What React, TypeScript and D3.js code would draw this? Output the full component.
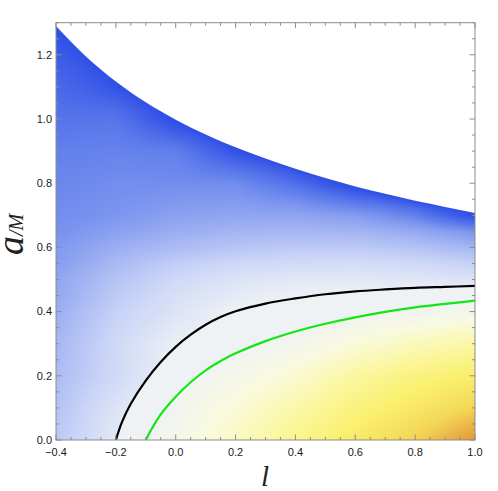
import React, { useMemo } from "react";
import * as d3 from "d3";

// ---------- data ----------
const L_TICKS = [-0.4, -0.2, 0, 0.2, 0.4, 0.6, 0.8, 1.0];
const A_TICKS = [0, 0.2, 0.4, 0.6, 0.8, 1.0, 1.2];

// upper edge of the coloured region
const upperL = [-0.4, -0.3, -0.2, -0.1, 0, 0.1, 0.2, 0.3, 0.4, 0.5, 0.6, 0.7, 0.8, 0.9, 1.0];
const upperA = [1.29, 1.195, 1.117, 1.052, 0.998, 0.952, 0.912, 0.877, 0.845, 0.816, 0.79, 0.767, 0.745, 0.726, 0.707];

// black curve
const blackL = [-0.2, -0.18, -0.15, -0.1, -0.05, 0, 0.05, 0.1, 0.15, 0.2, 0.3, 0.4, 0.5, 0.6, 0.7, 0.8, 0.9, 1.0];
const blackA = [0, 0.055, 0.113, 0.185, 0.243, 0.29, 0.328, 0.359, 0.383, 0.401, 0.425, 0.441, 0.454, 0.463, 0.469, 0.474, 0.477, 0.48];

// green curve
const greenL = [-0.1, -0.08, -0.05, 0, 0.05, 0.1, 0.15, 0.2, 0.3, 0.4, 0.5, 0.6, 0.7, 0.8, 0.9, 1.0];
const greenA = [0, 0.035, 0.08, 0.135, 0.18, 0.217, 0.246, 0.27, 0.308, 0.338, 0.362, 0.382, 0.399, 0.413, 0.424, 0.434];

// colour field samples (-1 deep blue, 0 pale, +1 orange); rows = fieldA, cols = fieldL
const fieldL = [-0.4, -0.2, 0, 0.2, 0.4, 0.6, 0.8, 1.0];
const fieldA = [0, 0.1, 0.2, 0.3, 0.4, 0.45, 0.5, 0.55, 0.6, 0.65, 0.7, 0.8, 0.9, 1.0, 1.1, 1.2, 1.3];
const row000 = [-0.27, -0.06, 0.08, 0.25, 0.43, 0.6, 0.77, 1.0];
const row010 = [-0.3, -0.1, 0.03, 0.18, 0.33, 0.49, 0.62, 0.76];
const row020 = [-0.34, -0.17, 0, 0.08, 0.2, 0.37, 0.49, 0.57];
const row030 = [-0.37, -0.17, -0.02, 0, 0.05, 0.17, 0.27, 0.35];
const row040 = [-0.42, -0.22, -0.1, 0, 0, 0, 0.04, 0.07];
const row045 = [-0.45, -0.26, -0.13, -0.05, -0.01, 0, 0, 0];
const row050 = [-0.47, -0.3, -0.17, -0.1, -0.07, -0.07, -0.08, -0.1];
const row055 = [-0.52, -0.35, -0.24, -0.18, -0.16, -0.15, -0.17, -0.22];
const row060 = [-0.55, -0.42, -0.34, -0.29, -0.26, -0.26, -0.3, -0.37];
const row065 = [-0.6, -0.5, -0.42, -0.38, -0.37, -0.38, -0.44, -0.55];
const row070 = [-0.62, -0.57, -0.5, -0.47, -0.47, -0.52, -0.65, -0.95];
const row080 = [-0.66, -0.62, -0.62, -0.62, -0.78, -1, -1, -1];
const row090 = [-0.7, -0.68, -0.7, -0.95, -1, -1, -1, -1];
const row100 = [-0.77, -0.76, -1, -1, -1, -1, -1, -1];
const row110 = [-0.84, -0.95, -1, -1, -1, -1, -1, -1];
const row120 = [-0.92, -1, -1, -1, -1, -1, -1, -1];
const row130 = [-1, -1, -1, -1, -1, -1, -1, -1];
const fieldRows = [row000, row010, row020, row030, row040, row045, row050, row055, row060, row065, row070, row080, row090, row100, row110, row120, row130];

// colour scale stops
const colorStops = [-1, -0.7, -0.4, -0.2, 0, 0.15, 0.35, 0.55, 0.75, 1];
const colorValues = ["#2f4fe6", "#6280ec", "#9fb1f2", "#cad5f7", "#eff2f5", "#f9fae0", "#fbf7a4", "#faf06e", "#f3d655", "#e3943a"];

// ---------- layout ----------
const WIDTH = 498;
const HEIGHT = 491;
const X0 = 56, X1 = 475, Y0 = 22.7, Y1 = 440;

const x = d3.scaleLinear().domain([-0.4, 1.0]).range([X0, X1]);
const y = d3.scaleLinear().domain([0, 1.3]).range([Y1, Y0]);

function bilinear(l: number, a: number): number {
  const nL = fieldL.length, nA = fieldA.length;
  const i = Math.min(Math.max(d3.bisectRight(fieldL, l) - 1, 0), nL - 2);
  const j = Math.min(Math.max(d3.bisectRight(fieldA, a) - 1, 0), nA - 2);
  const t = Math.min(Math.max((l - fieldL[i]) / (fieldL[i + 1] - fieldL[i]), 0), 1);
  const u = Math.min(Math.max((a - fieldA[j]) / (fieldA[j + 1] - fieldA[j]), 0), 1);
  const v00 = fieldRows[j][i], v10 = fieldRows[j][i + 1];
  const v01 = fieldRows[j + 1][i], v11 = fieldRows[j + 1][i + 1];
  return (v00 * (1 - t) + v10 * t) * (1 - u) + (v01 * (1 - t) + v11 * t) * u;
}

function useFieldImage() {
  return useMemo(() => {
    const W = Math.round(X1 - X0);
    const H = Math.round(Y1 - Y0);
    const canvas = document.createElement("canvas");
    canvas.width = W;
    canvas.height = H;
    const ctx = canvas.getContext("2d");
    if (!ctx) return "";
    const img = ctx.createImageData(W, H);
    const colorScale = d3.scaleLinear<string>().domain(colorStops).range(colorValues).interpolate(d3.interpolateRgb).clamp(true);
    const LUT_N = 1024;
    const lut: d3.RGBColor[] = [];
    for (let k = 0; k <= LUT_N; k++) lut.push(d3.rgb(colorScale(-1 + (2 * k) / LUT_N)));
    const upper = d3.scaleLinear().domain(upperL).range(upperA).clamp(true);
    const black = d3.scaleLinear().domain(blackL).range(blackA).clamp(true);
    const green = d3.scaleLinear().domain(greenL).range(greenA).clamp(true);
    for (let px = 0; px < W; px++) {
      const sx = X0 + px + 0.5;
      const l = x.invert(sx);
      const yb = y(upper(l));
      const slope = (y(upper(x.invert(sx + 1))) - y(upper(x.invert(sx - 1)))) / 2;
      const norm = Math.sqrt(1 + slope * slope);
      const bl = black(l), gr = green(l);
      for (let py = 0; py < H; py++) {
        const sy = Y0 + py + 0.5;
        const a = y.invert(sy);
        let v = bilinear(l, a);
        const aboveBlack = l < blackL[0] ? true : a > bl;
        const belowGreen = l < greenL[0] ? false : a < gr;
        if (aboveBlack) v = Math.min(v, 0);
        else if (belowGreen) v = Math.max(v, 0);
        else v = 0;
        const d = (sy - yb) / norm;
        if (d < 0) v = -1;
        else {
          const e = Math.exp(-d / 7);
          v = v * (1 - e) - e;
        }
        const k = Math.round(((v + 1) / 2) * LUT_N);
        const c = lut[Math.min(Math.max(k, 0), LUT_N)];
        const idx = (py * W + px) * 4;
        img.data[idx] = c.r;
        img.data[idx + 1] = c.g;
        img.data[idx + 2] = c.b;
        img.data[idx + 3] = 255;
      }
    }
    ctx.putImageData(img, 0, 0);
    return canvas.toDataURL("image/png");
  }, []);
}

export default function App() {
  const href = useFieldImage();
  const fmt = d3.format(".1f");

  const upperPts = upperL.map((l, i) => [l, upperA[i]] as [number, number]);
  const clipArea = d3
    .area<[number, number]>()
    .x((d) => x(d[0]))
    .y0(Y1)
    .y1((d) => y(d[1]))
    .curve(d3.curveMonotoneX)(upperPts) as string;

  const line = d3
    .line<[number, number]>()
    .x((d) => x(d[0]))
    .y((d) => y(d[1]))
    .curve(d3.curveCatmullRom.alpha(0.5));
  const blackPath = line(blackL.map((l, i) => [l, blackA[i]] as [number, number])) as string;
  const greenPath = line(greenL.map((l, i) => [l, greenA[i]] as [number, number])) as string;

  const minorX = d3.range(0, 29).map((i) => ({ v: -0.4 + i * 0.05, major: i % 4 === 0 }));
  const minorY = d3.range(0, 27).map((i) => ({ v: i * 0.05, major: i % 4 === 0 }));
  const MAJ = 5.5, MIN = 3;
  const axisColor = "#8c8c8c";

  return (
    <svg
      width={WIDTH}
      height={HEIGHT}
      style={{ position: "absolute", left: 0, top: 0, background: "#fff" }}
      fontFamily="'Liberation Sans', Arial, sans-serif"
    >
      <defs>
        <clipPath id="fieldClip">
          <path d={clipArea} />
        </clipPath>
        <clipPath id="plotClip">
          <rect x={X0} y={Y0} width={X1 - X0} height={Y1 - Y0} />
        </clipPath>
      </defs>
      <rect x={0} y={0} width={WIDTH} height={HEIGHT} fill="#fff" />
      {href && (
        <image
          href={href}
          x={X0}
          y={Y0}
          width={X1 - X0}
          height={Y1 - Y0}
          preserveAspectRatio="none"
          clipPath="url(#fieldClip)"
        />
      )}
      <g clipPath="url(#plotClip)">
        <path d={blackPath} fill="none" stroke="#000" strokeWidth={2.2} strokeLinejoin="round" />
        <path d={greenPath} fill="none" stroke="#14e614" strokeWidth={2.2} strokeLinejoin="round" />
      </g>

      {/* frame */}
      <rect x={X0} y={Y0} width={X1 - X0} height={Y1 - Y0} fill="none" stroke={axisColor} strokeWidth={1} />

      {/* ticks */}
      <g stroke={axisColor} strokeWidth={1}>
        {minorX.map((t, i) => {
          const len = t.major ? MAJ : MIN;
          const px = x(t.v);
          return (
            <g key={"tx" + i}>
              <line x1={px} x2={px} y1={Y1} y2={Y1 - len} />
              <line x1={px} x2={px} y1={Y0} y2={Y0 + len} />
            </g>
          );
        })}
        {minorY.map((t, i) => {
          const len = t.major ? MAJ : MIN;
          const py = y(t.v);
          return (
            <g key={"ty" + i}>
              <line x1={X0} x2={X0 + len} y1={py} y2={py} />
              <line x1={X1} x2={X1 - len} y1={py} y2={py} />
            </g>
          );
        })}
      </g>

      {/* tick labels */}
      <g fontSize={11} fill="#1a1a1a">
        {L_TICKS.map((t) => (
          <text key={"lx" + t} x={x(t)} y={456} textAnchor="middle">
            {fmt(t)}
          </text>
        ))}
        {A_TICKS.map((t) => (
          <text key={"ly" + t} x={X0 - 4} y={y(t)} dy="0.35em" textAnchor="end">
            {fmt(t)}
          </text>
        ))}
      </g>

      {/* axis labels */}
      <text
        x={265}
        y={486}
        textAnchor="middle"
        fontFamily="'Liberation Serif', 'Times New Roman', serif"
        fontStyle="italic"
        fontSize={29}
        fill="#222"
      >
        l
      </text>
      <text
        transform="translate(23,255) rotate(-90)"
        fontFamily="'Liberation Serif', 'Times New Roman', serif"
        fontStyle="italic"
        fill="#222"
      >
        <tspan fontSize={38}>a</tspan>
        <tspan fontSize={20}>/M</tspan>
      </text>
    </svg>
  );
}
